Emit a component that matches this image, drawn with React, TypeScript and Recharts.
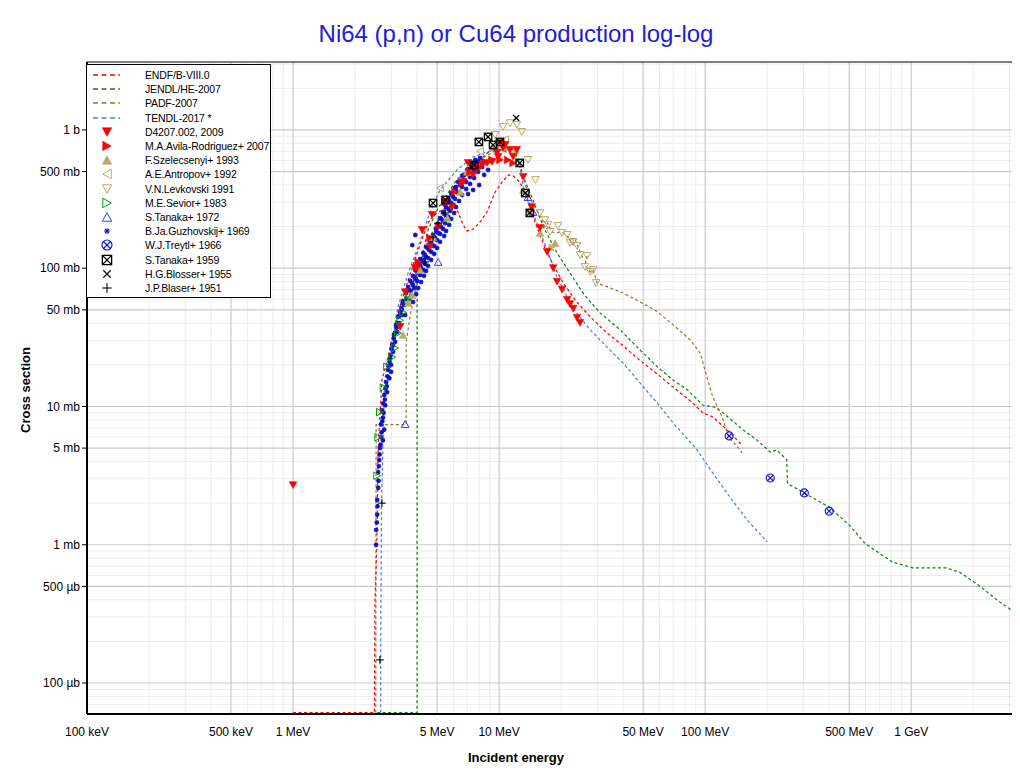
import React from "react";
import { ComposedChart, Line, Scatter, XAxis, YAxis, CartesianGrid } from "recharts";

// energies in MeV, cross sections in barn
const X_MIN = 0.1;
const X_MAX = 3120;
const Y_MIN = 5.97e-5;
const Y_MAX = 3.1;
const ZERO = 6.1e-5; // evaluations below threshold (drawn on the bottom edge)

const xTickValues = [0.1, 0.5, 1, 5, 10, 50, 100, 500, 1000];
const xTickLabels = ["100 keV", "500 keV", "1 MeV", "5 MeV", "10 MeV", "50 MeV", "100 MeV", "500 MeV", "1 GeV"];
const yTickValues = [1e-4, 5e-4, 1e-3, 5e-3, 0.01, 0.05, 0.1, 0.5, 1];
const yTickLabels = ["100 µb", "500 µb", "1 mb", "5 mb", "10 mb", "50 mb", "100 mb", "500 mb", "1 b"];

type Pt = [number, number];

const endf: Pt[] = [
  [1.0, ZERO], [2.48, ZERO], [2.5, 4.0e-4], [2.55, 1.0e-3], [2.59, 5.1e-3], [2.7, 0.0155], [2.89, 0.0228],
  [3.23, 0.0475], [3.62, 0.082], [4.05, 0.136], [4.52, 0.212], [4.78, 0.24], [5.3, 0.265], [5.6, 0.275],
  [5.98, 0.285], [6.32, 0.255], [6.69, 0.206], [7.0, 0.186], [7.48, 0.192], [8.09, 0.216], [8.74, 0.255],
  [9.57, 0.356], [10.45, 0.428], [11.1, 0.473], [11.7, 0.465], [12.4, 0.43], [13.1, 0.38], [14.1, 0.277],
  [15.3, 0.196], [16.7, 0.14], [18.3, 0.1056], [20.5, 0.0782], [23.4, 0.0589], [27.7, 0.0444], [33.4, 0.034],
  [40.0, 0.0275], [48.3, 0.0215], [58.5, 0.0172], [70.0, 0.0138], [84.6, 0.011], [97.8, 0.00897],
  [109, 0.0084], [128, 0.00676], [151, 0.00527],
];

const jendl: Pt[] = [
  [2.56, ZERO], [4.0, ZERO], [4.0, 0.0865], [4.05, 0.095], [4.23, 0.12], [4.52, 0.189], [5.0, 0.264],
  [5.78, 0.368], [6.25, 0.44], [7.0, 0.514], [8.36, 0.638], [8.74, 0.68], [9.78, 0.74], [10.5, 0.75],
  [11.7, 0.717], [12.4, 0.62], [13.1, 0.457], [14.6, 0.312], [16.4, 0.199], [19.1, 0.129], [22.1, 0.0924],
  [25.5, 0.0662], [30.9, 0.0475], [38.7, 0.0358], [48.3, 0.0256], [58.5, 0.0194], [70, 0.0155], [82, 0.0132],
  [97.8, 0.0102], [111, 0.0099], [121, 0.0091], [153, 0.00676], [179, 0.0057], [207, 0.00468], [223, 0.00485],
  [249, 0.0041], [251, 0.00277], [297, 0.00241], [404, 0.00185], [505, 0.00137], [598, 0.00102], [707, 0.00086],
  [812, 0.00075], [1020, 0.00068], [1480, 0.00068], [1729, 0.00063], [2162, 0.0005], [2600, 0.0004],
  [3124, 0.00033], [3500, 0.00027],
];

const padf: Pt[] = [
  [2.52, ZERO], [2.53, 0.0074], [3.54, 0.0074], [3.54, 0.0293], [3.7, 0.045], [4.0, 0.08], [4.5, 0.15],
  [5.0, 0.22], [5.78, 0.32], [6.5, 0.42], [7.5, 0.54], [8.5, 0.64], [9.5, 0.7], [10.5, 0.72], [11.5, 0.68],
  [12.5, 0.55], [13.4, 0.4], [14.6, 0.29], [15.8, 0.243], [16.7, 0.199], [17.2, 0.212], [18.0, 0.183],
  [19.1, 0.18], [19.8, 0.183], [20.5, 0.18], [21.6, 0.168], [22.6, 0.147], [23.4, 0.16], [24.2, 0.142],
  [25.3, 0.1206], [26.7, 0.1206], [26.1, 0.1056], [27.7, 0.094], [28.6, 0.097], [29.9, 0.0782], [40, 0.0662],
  [48.3, 0.0571], [58.5, 0.0486], [70, 0.0389], [84.6, 0.0303], [94.6, 0.0244], [102, 0.0163], [109, 0.0117],
  [121, 0.0084], [130, 0.006], [148, 0.00485], [151, 0.0046],
];

const tendl: Pt[] = [
  [2.66, ZERO], [2.67, 4.0e-4], [2.69, 0.0021], [2.78, 0.0155], [2.96, 0.0245], [3.23, 0.0525], [3.62, 0.0924],
  [4.05, 0.143], [4.52, 0.232], [4.78, 0.287], [5.17, 0.368], [6.25, 0.514], [7.48, 0.638], [8.74, 0.693],
  [10.1, 0.717], [11.3, 0.68], [12.6, 0.577], [13.1, 0.387], [14.6, 0.251], [16.4, 0.16], [19.1, 0.0865],
  [22.9, 0.051], [27.7, 0.0358], [33.4, 0.0269], [40, 0.0206], [48.3, 0.0148], [58.5, 0.0106], [70, 0.0076],
  [91.4, 0.00485], [109, 0.0033], [132, 0.00221], [160, 0.00151], [200, 0.00105],
];

const d4207: Pt[] = [
  [1.0, 0.0027], [3.31, 0.0376], [3.5, 0.067], [3.91, 0.1], [4.0, 0.1], [4.23, 0.189], [4.62, 0.143],
  [4.73, 0.243], [5.06, 0.199], [5.47, 0.3], [5.91, 0.277], [6.69, 0.42], [7.07, 0.577], [7.48, 0.473],
  [7.64, 0.54], [8.27, 0.558], [8.74, 0.577], [9.25, 0.587], [9.78, 0.682], [9.89, 0.638], [10.1, 0.805],
  [10.45, 0.74], [10.7, 0.779], [11.3, 0.717], [11.7, 0.638], [12.2, 0.717], [13.1, 0.457], [14.4, 0.277],
  [15.8, 0.196], [17.1, 0.131], [18.3, 0.1], [19.1, 0.08], [20.2, 0.07], [21.4, 0.059], [22.1, 0.055],
  [22.9, 0.051], [23.9, 0.0438], [24.7, 0.0402],
];

const avila: Pt[] = [
  [4.05, 0.111], [4.62, 0.166], [5.47, 0.3], [6.11, 0.356], [6.62, 0.414], [7.23, 0.497], [7.98, 0.531],
  [8.55, 0.587], [9.25, 0.607], [10.1, 0.607], [11.0, 0.607], [11.7, 0.577],
];

const szelecsenyi: Pt[] = [
  [3.42, 0.0329], [3.62, 0.0562], [3.78, 0.064], [4.14, 0.097], [4.78, 0.168], [5.6, 0.231], [6.47, 0.356],
  [7.0, 0.497], [8.36, 0.587], [9.35, 0.753], [10.7, 0.753], [12.0, 0.717], [13.1, 0.368], [14.1, 0.264],
  [15.8, 0.18], [17.7, 0.142], [18.7, 0.152],
];

const antropov: Pt[] = [[5.17, 0.38], [8.09, 0.7], [10.7, 0.85]];

const levkovski: Pt[] = [
  [9.57, 0.92], [10.45, 1.05], [11.3, 1.12], [12.2, 1.09], [12.9, 0.967], [13.8, 0.607], [15.0, 0.435],
  [15.8, 0.251], [16.7, 0.223], [17.3, 0.206], [17.7, 0.183], [19.3, 0.202], [20.2, 0.18], [21.4, 0.174],
  [22.1, 0.152], [22.9, 0.155], [23.9, 0.145], [24.7, 0.1247], [26.7, 0.1227], [26.1, 0.1021], [27.7, 0.094],
  [28.6, 0.097], [29.6, 0.0782],
];

const sevior: Pt[] = [
  [2.56, 0.00316], [2.59, 0.006], [2.64, 0.0091], [2.75, 0.0137], [2.86, 0.0194], [3.03, 0.0228],
  [3.13, 0.0265], [3.23, 0.0339], [3.31, 0.042], [3.42, 0.048], [3.62, 0.059], [3.7, 0.064],
];

const tanaka72: Pt[] = [[3.5, 0.00747], [5.06, 0.111], [13.8, 0.327], [14.6, 0.255]];

const guzhovskij: Pt[] = [
  // near threshold
  [2.53, 0.001], [2.53, 0.00128], [2.55, 0.00145], [2.56, 0.00165], [2.57, 0.0019], [2.56, 0.00211],
  [2.59, 0.00258], [2.6, 0.0029], [2.59, 0.00335], [2.61, 0.0037], [2.62, 0.0041], [2.63, 0.0045],
  [2.64, 0.005], [2.66, 0.0053], [2.73, 0.0057], [2.67, 0.006], [2.69, 0.0065], [2.77, 0.0068],
  [2.67, 0.0074], [2.71, 0.0078], [2.73, 0.0083], [2.75, 0.009], [2.7, 0.0094], [2.8, 0.0102],
  [2.74, 0.0105], [2.79, 0.0112], [2.77, 0.0121], [2.86, 0.0127], [2.81, 0.0135], [2.85, 0.014],
  [2.83, 0.015], [2.93, 0.016], [2.88, 0.0165], [2.99, 0.0178], [2.89, 0.0184], [2.91, 0.0195],
  [2.99, 0.02], [2.94, 0.021], [2.96, 0.0223], [2.98, 0.0235], [3.06, 0.0249], [3.01, 0.026],
  [3.05, 0.0275], [3.03, 0.0279], [3.13, 0.0293], [3.08, 0.031], [3.09, 0.0329], [3.12, 0.034],
  [3.2, 0.0346], [3.18, 0.037], [3.16, 0.0389], [3.22, 0.04], [3.27, 0.0402], [3.23, 0.0444],
  [3.26, 0.045], [3.38, 0.0459], [3.5, 0.0459], [3.31, 0.048], [3.37, 0.05], [3.35, 0.0515],
  [3.46, 0.0542], [3.4, 0.056],
  // rising band
  [3.42, 0.0577], [3.66, 0.0605], [3.82, 0.057], [3.54, 0.0662], [3.74, 0.0685], [3.96, 0.065],
  [3.62, 0.0732], [3.82, 0.0756], [4.05, 0.072], [3.7, 0.081], [3.91, 0.0835], [4.18, 0.0795],
  [3.82, 0.088], [4.05, 0.0924], [4.32, 0.088], [3.91, 0.0971], [4.18, 0.1], [4.42, 0.0955],
  [4.05, 0.1073], [4.28, 0.111], [4.52, 0.104], [4.14, 0.1167], [4.42, 0.1206], [4.68, 0.1148],
  [4.28, 0.129], [4.57, 0.1356], [4.84, 0.127], [4.42, 0.1428], [4.73, 0.147], [5.0, 0.14],
  [4.62, 0.157], [4.89, 0.163], [5.17, 0.155], [4.78, 0.174], [5.06, 0.18], [5.41, 0.171],
  [4.95, 0.193], [5.23, 0.199], [5.53, 0.186], [5.06, 0.209], [5.35, 0.22], [5.72, 0.206],
  [5.17, 0.231], [5.53, 0.239], [5.85, 0.227], [5.35, 0.255], [5.66, 0.268], [6.05, 0.251],
  [5.47, 0.287], [5.85, 0.296], [6.18, 0.277], [5.66, 0.317], [5.98, 0.328], [6.39, 0.306],
  [5.85, 0.35], [6.18, 0.362], [6.61, 0.339], [6.11, 0.381], [6.47, 0.4], [6.92, 0.374],
  [6.32, 0.421], [6.76, 0.435], [7.23, 0.407], [6.61, 0.465], [7.07, 0.481], [7.56, 0.449],
  [7.0, 0.514], [7.4, 0.531], [7.91, 0.497], [7.31, 0.558], [7.73, 0.577], [8.27, 0.54],
  [7.65, 0.607], [8.09, 0.627], [8.65, 0.587], [8.46, 0.473], [8.84, 0.514], [8.0, 0.4],
  [7.48, 0.368], [7.07, 0.344],
  [3.54, 0.0599], [3.74, 0.063], [3.66, 0.0696], [3.87, 0.072], [3.78, 0.0782], [4.0, 0.0809],
  [3.91, 0.0865], [4.14, 0.0894], [4.0, 0.0939], [4.28, 0.0971], [4.14, 0.1038], [4.37, 0.1073],
  [4.28, 0.1148], [4.52, 0.1186], [4.37, 0.1247], [4.68, 0.1312], [4.52, 0.1401], [4.84, 0.1449],
  [4.68, 0.1548], [5.0, 0.16], [4.84, 0.168], [5.17, 0.177], [4.95, 0.183], [5.35, 0.192],
  [5.11, 0.202], [5.47, 0.212], [5.23, 0.227], [5.66, 0.235], [5.41, 0.247], [5.78, 0.26],
  [5.53, 0.277], [5.98, 0.287], [5.72, 0.306], [6.11, 0.317], [5.91, 0.339], [6.32, 0.35],
  [6.18, 0.387], [6.61, 0.387], [6.47, 0.428], [6.92, 0.421], [6.76, 0.473], [7.23, 0.457],
  [7.07, 0.522], [7.56, 0.505], [7.48, 0.577], [7.91, 0.549], [7.91, 0.597], [8.36, 0.577],
  // scattered
  [3.92, 0.174], [3.79, 0.147],
];

const treytl: Pt[] = [[130.8, 0.00612], [207, 0.00304], [303, 0.00237], [400, 0.00175]];

const tanaka59: Pt[] = [
  [4.78, 0.296], [5.5, 0.312], [7.56, 0.558], [7.98, 0.819], [8.84, 0.89], [9.35, 0.779], [10.1, 0.819],
  [12.6, 0.577], [13.4, 0.35], [14.1, 0.251],
];

const blosser: Pt[] = [[12.1, 1.22]];

const blaser: Pt[] = [[2.64, 0.000147], [2.7, 0.002], [4.38, 0.111], [4.78, 0.168], [5.06, 0.212], [5.47, 0.251]];

const toRows = (pts: Pt[]) => pts.map(([x, y]) => ({ x, y }));

const FONT = '"Liberation Sans", Arial, Helvetica, sans-serif';
const KHAKI = "#b5ad66";

type Kind =
  | "down" | "right" | "up" | "leftOpen" | "downOpen" | "rightOpen" | "upOpen"
  | "star" | "circleX" | "squareX" | "cross" | "plus";

function Glyph({ kind, color, cx, cy, k = 1 }: { kind: Kind; color: string; cx: number; cy: number; k?: number }) {
  const a = 3.8 * k;
  const b = 3.4 * k;
  const tri = (p: number[][], filled: boolean) => (
    <polygon
      points={p.map((q) => q.join(",")).join(" ")}
      fill={filled ? color : "none"}
      stroke={color}
      strokeWidth={filled ? 0.6 : 1}
    />
  );
  switch (kind) {
    case "down":
      return tri([[cx - a, cy - b], [cx + a, cy - b], [cx, cy + b]], true);
    case "downOpen":
      return tri([[cx - a, cy - b], [cx + a, cy - b], [cx, cy + b]], false);
    case "right":
      return tri([[cx - b, cy - a], [cx - b, cy + a], [cx + b, cy]], true);
    case "rightOpen":
      return tri([[cx - b, cy - a], [cx - b, cy + a], [cx + b, cy]], false);
    case "up":
      return tri([[cx - a, cy + b], [cx + a, cy + b], [cx, cy - b]], true);
    case "upOpen":
      return tri([[cx - a, cy + b], [cx + a, cy + b], [cx, cy - b]], false);
    case "leftOpen":
      return tri([[cx + b, cy - a], [cx + b, cy + a], [cx - b, cy]], false);
    case "star": {
      const r = 2.3 * k;
      const d = r * 0.72;
      return (
        <g stroke={color} strokeWidth={k > 1 ? 1.1 : 1.5}>
          <line x1={cx - r} y1={cy} x2={cx + r} y2={cy} />
          <line x1={cx} y1={cy - r} x2={cx} y2={cy + r} />
          <line x1={cx - d} y1={cy - d} x2={cx + d} y2={cy + d} />
          <line x1={cx - d} y1={cy + d} x2={cx + d} y2={cy - d} />
        </g>
      );
    }
    case "circleX": {
      const r = 4 * k;
      const d = r * 0.7;
      return (
        <g stroke={color} strokeWidth={1.2} fill="none">
          <circle cx={cx} cy={cy} r={r} />
          <line x1={cx - d} y1={cy - d} x2={cx + d} y2={cy + d} />
          <line x1={cx - d} y1={cy + d} x2={cx + d} y2={cy - d} />
        </g>
      );
    }
    case "squareX": {
      const r = 3.7 * k;
      return (
        <g stroke={color} strokeWidth={1.3} fill="none">
          <rect x={cx - r} y={cy - r} width={2 * r} height={2 * r} />
          <line x1={cx - r} y1={cy - r} x2={cx + r} y2={cy + r} />
          <line x1={cx - r} y1={cy + r} x2={cx + r} y2={cy - r} />
        </g>
      );
    }
    case "cross": {
      const r = 3 * k;
      return (
        <g stroke={color} strokeWidth={1.1}>
          <line x1={cx - r} y1={cy - r} x2={cx + r} y2={cy + r} />
          <line x1={cx - r} y1={cy + r} x2={cx + r} y2={cy - r} />
        </g>
      );
    }
    case "plus": {
      const r = 3.8 * k;
      return (
        <g stroke={color} strokeWidth={1.1}>
          <line x1={cx - r} y1={cy} x2={cx + r} y2={cy} />
          <line x1={cx} y1={cy - r} x2={cx} y2={cy + r} />
        </g>
      );
    }
  }
  return null;
}

const shapeOf = (kind: Kind, color: string) => (p: any) => <Glyph kind={kind} color={color} cx={p.cx} cy={p.cy} />;

type LegendItem = { label: string; color: string; line?: boolean; kind?: Kind };

const legendItems: LegendItem[] = [
  { label: "ENDF/B-VIII.0", color: "#ff0000", line: true },
  { label: "JENDL/HE-2007", color: "#157a15", line: true },
  { label: "PADF-2007", color: "#a0703c", line: true },
  { label: "TENDL-2017 *", color: "#4a78e6", line: true },
  { label: "D4207.002, 2009", color: "#ff0000", kind: "down" },
  { label: "M.A.Avila-Rodriguez+ 2007", color: "#ff0000", kind: "right" },
  { label: "F.Szelecsenyi+ 1993", color: KHAKI, kind: "up" },
  { label: "A.E.Antropov+ 1992", color: KHAKI, kind: "leftOpen" },
  { label: "V.N.Levkovski 1991", color: KHAKI, kind: "downOpen" },
  { label: "M.E.Sevior+ 1983", color: "#00a000", kind: "rightOpen" },
  { label: "S.Tanaka+ 1972", color: "#3838ff", kind: "upOpen" },
  { label: "B.Ja.Guzhovskij+ 1969", color: "#1010c8", kind: "star" },
  { label: "W.J.Treytl+ 1966", color: "#1818d0", kind: "circleX" },
  { label: "S.Tanaka+ 1959", color: "#000000", kind: "squareX" },
  { label: "H.G.Blosser+ 1955", color: "#000000", kind: "cross" },
  { label: "J.P.Blaser+ 1951", color: "#000000", kind: "plus" },
];

const decades = (from: number, to: number) => {
  const out: number[] = [];
  for (let d = from; d <= to; d *= 10) out.push(d);
  return out;
};
const minorX = decades(0.1, 1000).flatMap((d) => [2, 3, 4, 6, 7, 8, 9].map((m) => m * d)).filter((v) => v < X_MAX);
const minorY = decades(1e-5, 1).flatMap((d) => [2, 3, 4, 6, 7, 8, 9].map((m) => m * d)).filter((v) => v > Y_MIN && v < Y_MAX);
const allX = [...xTickValues, ...minorX];
const allY = [...yTickValues, ...minorY];

function Legend() {
  return (
    <div
      style={{
        position: "absolute", left: 78, top: 56, width: 185, height: 234, background: "#fff",
        border: "1px solid #000", boxSizing: "border-box", fontFamily: FONT, fontSize: 10.5,
        letterSpacing: -0.15, color: "#000",
      }}
    >
      {legendItems.map((it, i) => (
        <div key={it.label} style={{ position: "absolute", left: 0, top: 3 + i * 14.2, height: 14, width: 180 }}>
          <svg width={40} height={14} style={{ position: "absolute", left: 0, top: 0 }}>
            {it.line ? (
              <line x1={6} y1={7} x2={33} y2={7} stroke={it.color} strokeWidth={1.6} strokeDasharray="5 3.5" />
            ) : (
              <Glyph kind={it.kind as Kind} color={it.color} cx={20} cy={7} k={1.25} />
            )}
          </svg>
          <span style={{ position: "absolute", left: 58, top: 1, whiteSpace: "nowrap" }}>{it.label}</span>
        </div>
      ))}
    </div>
  );
}

export default function App() {
  const axisTick = { fontSize: 12, fill: "#000", fontFamily: FONT };
  const dash = "3 2.5";
  return (
    <div style={{ position: "relative", width: 1012, height: 766, fontFamily: FONT }}>
      <div
        style={{
          position: "absolute", left: 0, right: 0, top: 12, textAlign: "center", paddingLeft: 4,
          fontSize: 24, color: "#2020d8",
        }}
      >
        Ni64 (p,n) or Cu64 production log-log
      </div>
      <ComposedChart width={1012} height={766} margin={{ top: 54, right: 7, bottom: 20, left: 0 }}>
        <CartesianGrid verticalValues={minorX} horizontalValues={minorY} stroke="#ececec" strokeWidth={1} />
        <CartesianGrid verticalValues={xTickValues} horizontalValues={yTickValues} stroke="#cacaca" strokeWidth={1.2} />
        <XAxis
          dataKey="x" type="number" scale="log" domain={[X_MIN, X_MAX]} allowDataOverflow
          ticks={xTickValues} interval={0} tickFormatter={(v: number) => xTickLabels[xTickValues.indexOf(v)]}
          tickLine={false} tickSize={0} tickMargin={13} height={40} tick={axisTick}
          axisLine={{ stroke: "#000", strokeWidth: 2 }}
        />
        <XAxis
          xAxisId="minor" type="number" scale="log" domain={[X_MIN, X_MAX]} allowDataOverflow
          ticks={allX} interval={0} mirror tick={false} axisLine={false} tickSize={4} tickLine={{ stroke: "#000" }}
        />
        <XAxis
          xAxisId="top" orientation="top" type="number" scale="log" domain={[X_MIN, X_MAX]} allowDataOverflow
          ticks={xTickValues} interval={0} mirror tick={false} tickSize={0} axisLine={{ stroke: "#000", strokeWidth: 1 }}
        />
        <YAxis
          dataKey="y" type="number" scale="log" domain={[Y_MIN, Y_MAX]} allowDataOverflow
          ticks={yTickValues} interval={0} tickFormatter={(v: number) => yTickLabels[yTickValues.indexOf(v)]}
          width={79} tickSize={5} tickMargin={2} tick={axisTick}
          tickLine={{ stroke: "#000" }} axisLine={{ stroke: "#000", strokeWidth: 2 }}
        />
        <YAxis
          yAxisId="minor" type="number" scale="log" domain={[Y_MIN, Y_MAX]} allowDataOverflow
          ticks={allY} interval={0} mirror tick={false} axisLine={false} tickSize={4} tickLine={{ stroke: "#000" }}
        />
        <YAxis
          yAxisId="right" orientation="right" type="number" scale="log" domain={[Y_MIN, Y_MAX]} allowDataOverflow
          ticks={yTickValues} interval={0} mirror tick={false} tickSize={5}
          tickLine={{ stroke: "#000" }} axisLine={{ stroke: "#000", strokeWidth: 2 }}
        />

        <Line data={toRows(endf)} dataKey="y" type="linear" stroke="#ff0000" strokeWidth={1.2} strokeDasharray={dash} dot={false} isAnimationActive={false} />
        <Line data={toRows(jendl)} dataKey="y" type="linear" stroke="#157a15" strokeWidth={1.2} strokeDasharray={dash} dot={false} isAnimationActive={false} />
        <Line data={toRows(padf)} dataKey="y" type="linear" stroke="#a0703c" strokeWidth={1.2} strokeDasharray={dash} dot={false} isAnimationActive={false} />
        <Line data={toRows(tendl)} dataKey="y" type="linear" stroke="#4a78e6" strokeWidth={1.2} strokeDasharray={dash} dot={false} isAnimationActive={false} />

        <Scatter data={toRows(guzhovskij)} shape={shapeOf("star", "#1010c8")} isAnimationActive={false} />
        <Scatter data={toRows(tanaka72)} shape={shapeOf("upOpen", "#3838ff")} isAnimationActive={false} />
        <Scatter data={toRows(sevior)} shape={shapeOf("rightOpen", "#00a000")} isAnimationActive={false} />
        <Scatter data={toRows(szelecsenyi)} shape={shapeOf("up", KHAKI)} isAnimationActive={false} />
        <Scatter data={toRows(levkovski)} shape={shapeOf("downOpen", KHAKI)} isAnimationActive={false} />
        <Scatter data={toRows(antropov)} shape={shapeOf("leftOpen", KHAKI)} isAnimationActive={false} />
        <Scatter data={toRows(avila)} shape={shapeOf("right", "#ff0000")} isAnimationActive={false} />
        <Scatter data={toRows(d4207)} shape={shapeOf("down", "#ff0000")} isAnimationActive={false} />
        <Scatter data={toRows(treytl)} shape={shapeOf("circleX", "#1818d0")} isAnimationActive={false} />
        <Scatter data={toRows(tanaka59)} shape={shapeOf("squareX", "#000")} isAnimationActive={false} />
        <Scatter data={toRows(blosser)} shape={shapeOf("cross", "#000")} isAnimationActive={false} />
        <Scatter data={toRows(blaser)} shape={shapeOf("plus", "#000")} isAnimationActive={false} />
      </ComposedChart>
      <Legend />
      <div
        style={{
          position: "absolute", left: 0, right: 0, top: 742, textAlign: "center", paddingLeft: 4,
          fontSize: 13, fontWeight: "bold",
        }}
      >
        Incident energy
      </div>
      <div
        style={{
          position: "absolute", left: 17, top: 382, width: 0, height: 0, fontSize: 13, fontWeight: "bold",
        }}
      >
        <div style={{ transform: "translate(-50%, -50%) rotate(-90deg)", whiteSpace: "nowrap", position: "absolute" }}>
          Cross section
        </div>
      </div>
    </div>
  );
}
